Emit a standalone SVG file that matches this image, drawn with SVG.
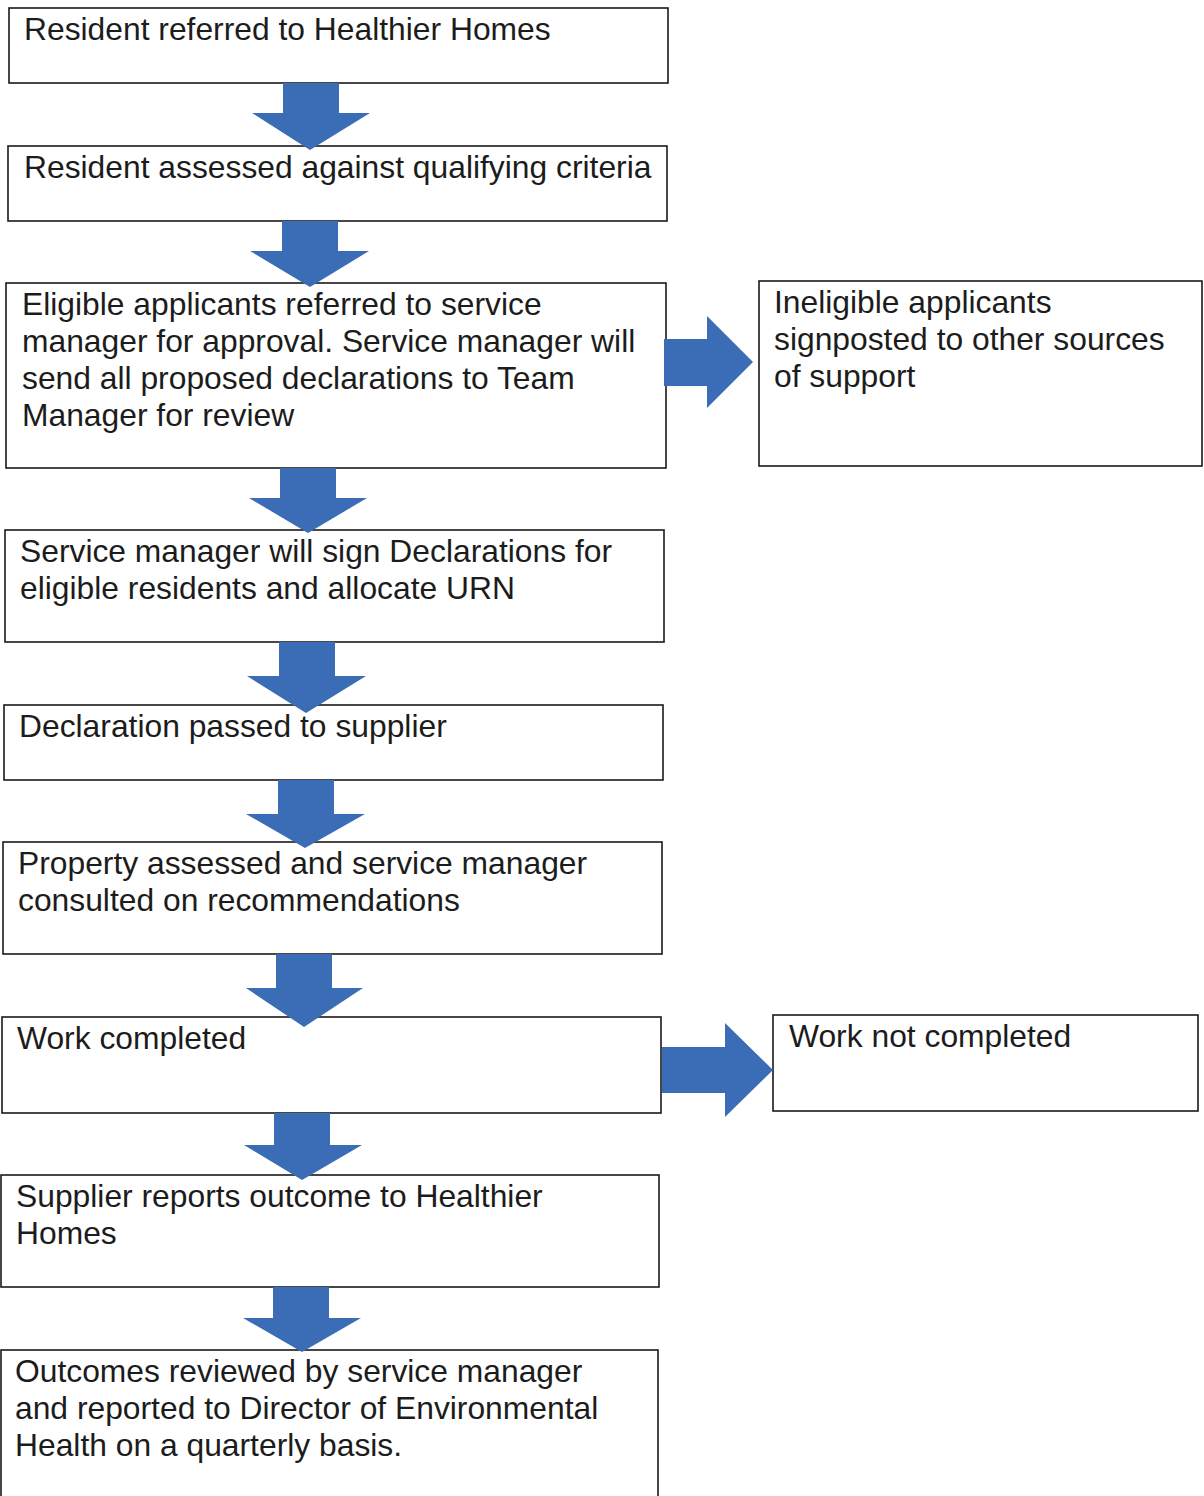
<svg xmlns="http://www.w3.org/2000/svg" width="1204" height="1496" viewBox="0 0 1204 1496">
<style>
.box{fill:#fff;stroke:#1a1a1a;stroke-width:1.6}
.t{font-family:"Liberation Sans",Arial,sans-serif;font-size:31.8px;fill:#1c1c1c}
.arr{fill:#3b6db6}
</style>
<rect width="1204" height="1496" fill="#fff"/>
<g id="n1"><rect class="box" x="9" y="8" width="659" height="75"/><text class="t" x="24" y="40">Resident referred to Healthier Homes</text></g>
<g id="n2"><rect class="box" x="8" y="146" width="659" height="75"/><text class="t" x="24" y="178">Resident assessed against qualifying criteria</text></g>
<g id="n3"><rect class="box" x="6" y="283" width="660" height="185"/><text class="t" x="22" y="315">Eligible applicants referred to service</text><text class="t" x="22" y="352">manager for approval. Service manager will</text><text class="t" x="22" y="389">send all proposed declarations to Team</text><text class="t" x="22" y="426">Manager for review</text></g>
<g id="n4"><rect class="box" x="759" y="281" width="443" height="185"/><text class="t" x="774" y="313">Ineligible applicants</text><text class="t" x="774" y="350">signposted to other sources</text><text class="t" x="774" y="387">of support</text></g>
<g id="n5"><rect class="box" x="5" y="530" width="659" height="112"/><text class="t" x="20" y="562">Service manager will sign Declarations for</text><text class="t" x="20" y="599">eligible residents and allocate URN</text></g>
<g id="n6"><rect class="box" x="4" y="705" width="659" height="75"/><text class="t" x="19" y="737">Declaration passed to supplier</text></g>
<g id="n7"><rect class="box" x="3" y="842" width="659" height="112"/><text class="t" x="18" y="874">Property assessed and service manager</text><text class="t" x="18" y="911">consulted on recommendations</text></g>
<g id="n8"><rect class="box" x="2" y="1017" width="659" height="96"/><text class="t" x="17" y="1049">Work completed</text></g>
<g id="n9"><rect class="box" x="773" y="1015" width="425" height="96"/><text class="t" x="789" y="1047">Work not completed</text></g>
<g id="n10"><rect class="box" x="1" y="1175" width="658" height="112"/><text class="t" x="16" y="1207">Supplier reports outcome to Healthier</text><text class="t" x="16" y="1244">Homes</text></g>
<g id="n11"><rect class="box" x="1" y="1350" width="657" height="160"/><text class="t" x="15" y="1382">Outcomes reviewed by service manager</text><text class="t" x="15" y="1419">and reported to Director of Environmental</text><text class="t" x="15" y="1456">Health on a quarterly basis.</text></g>
<g id="connectors">
<polygon class="arr" points="283,83 339,83 339,113 370,113 310,150 252,113 283,113"/>
<polygon class="arr" points="282,221 338,221 338,251 369,251 310,287 250,251 282,251"/>
<polygon class="arr" points="280,468 336,468 336,498 367,498 308,533 249,498 280,498"/>
<polygon class="arr" points="279,642 335,642 335,676 366,676 306,713 247,676 279,676"/>
<polygon class="arr" points="278,780 334,780 334,814 365,814 305,848 246,814 278,814"/>
<polygon class="arr" points="276,954 332,954 332,988 363,988 304,1027 246,988 276,988"/>
<polygon class="arr" points="274,1113 330,1113 330,1145 362,1145 302,1180 244,1145 274,1145"/>
<polygon class="arr" points="273,1287 329,1287 329,1318 361,1318 302,1352 243,1318 273,1318"/>
<polygon class="arr" points="664,339 707,339 707,316 753,362 707,408 707,386 664,386"/>
<polygon class="arr" points="662,1047 725,1047 725,1023 773,1070 725,1117 725,1093 662,1093"/>
</g>
</svg>
